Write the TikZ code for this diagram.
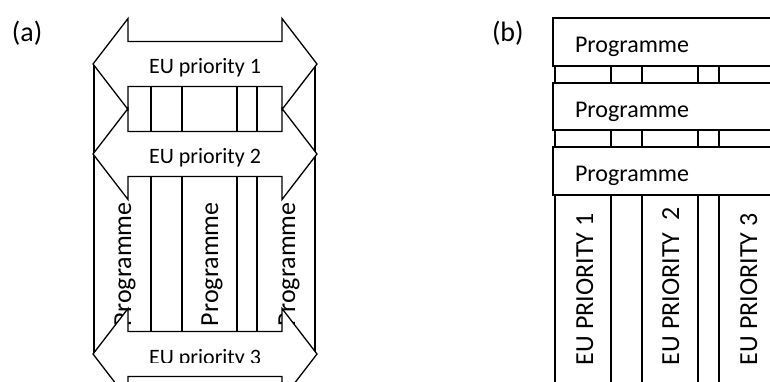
\documentclass[tikz,border=0pt]{standalone}
\usepackage{fontspec}
\setmainfont{Carlito}
\begin{document}
\begin{tikzpicture}[x=1pt,y=-1pt,
  every node/.style={inner sep=0pt, outer sep=0pt},
  ln/.style={line width=1.3pt, line join=miter},
  arrowbody/.style={ln, fill=white},
  colbox/.style={ln},
  progbox/.style={ln, fill=white},
  lbl/.style={font=\fontsize{28}{30}\selectfont},
  eusmall/.style={font=\fontsize{22}{24}\selectfont},
  proghor/.style={font=\fontsize{24}{26}\selectfont},
  progvert/.style={font=\fontsize{26}{28}\selectfont, rotate=90, anchor=base west},
  euvert/.style={font=\fontsize{26}{28}\selectfont, rotate=90, anchor=base west}]
\useasboundingbox (0,0) rectangle (770,381);
\clip (0,0) rectangle (770,381);

% labels
\node[lbl, anchor=base west] (la) at (12,41) {(a)};
\node[lbl, anchor=base west] (lb) at (492,41) {(b)};

% ---------- (a) ----------
\draw[colbox] (94,64) rectangle (151,353);
\draw[colbox] (182,64) rectangle (237,353);
\draw[colbox] (257,64) rectangle (315,353);
\node[progvert] (pa1) at (131,326) {Programme};
\node[progvert] (pa2) at (218,326) {Programme};
\node[progvert] (pa3) at (295,326) {Programme};

\foreach \c in {64,154,354} {
  \draw[arrowbody] (93,\c) -- (128,\c-45.5) -- (128,\c-22.5) -- (282,\c-22.5)
    -- (282,\c-45.5) -- (317,\c) -- (282,\c+45.5) -- (282,\c+22.5)
    -- (128,\c+22.5) -- (128,\c+45.5) -- cycle;
}
\node[eusmall, anchor=base] (eu1) at (205,73) {EU priority 1};
\node[eusmall, anchor=base] (eu2) at (205,163) {EU priority 2};
\begin{scope}
  \clip (130,330) rectangle (280,362);
  \node[eusmall, anchor=base] (eu3) at (205,364) {EU priority 3};
\end{scope}

% ---------- (b) ----------
\draw[colbox] (555,42) rectangle (611,400);
\draw[colbox] (642,42) rectangle (698,400);
\draw[colbox] (719,42) rectangle (800,400);
\draw[progbox] (553,18) rectangle (800,66);
\draw[progbox] (553,83) rectangle (800,130);
\draw[progbox] (553,147) rectangle (800,195);
\node[proghor, anchor=base west] (pb1) at (575,52) {Programme};
\node[proghor, anchor=base west] (pb2) at (575,117) {Programme};
\node[proghor, anchor=base west] (pb3) at (575,181) {Programme};
\node[euvert] (ev1) at (593,365) {EU PRIORITY 1};
\node[euvert] (ev2) at (679,365) {EU PRIORITY\ \ 2};
\node[euvert] (ev3) at (757,365) {EU PRIORITY 3};
\end{tikzpicture}
\end{document}
